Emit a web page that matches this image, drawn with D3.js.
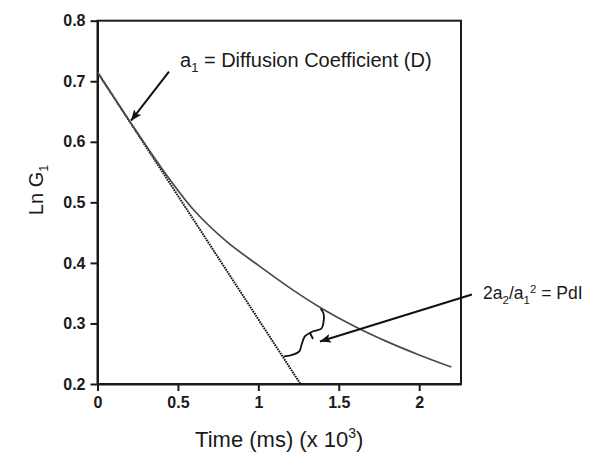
<!DOCTYPE html>
<html><head><meta charset="utf-8">
<script src="https://cdn.jsdelivr.net/npm/d3@7"></script>
<style>body{margin:0;background:#fff}svg{display:block}text{font-family:Arial,"Liberation Sans",sans-serif;fill:#1a1a1a}</style>
</head><body><svg id="c" width="598" height="453"></svg>
<script>
// ---- data ----
const timeValues  = [0, 0.2, 0.4, 0.6, 0.8, 1.0, 1.2, 1.4, 1.6, 1.8, 2.0, 2.2];
const lnG1Values  = [0.715, 0.634, 0.556, 0.487, 0.436, 0.396, 0.358, 0.324, 0.295, 0.270, 0.248, 0.228];
const tangentTime = [0, 1.262];
const tangentLnG1 = [0.715, 0.2];
const xTickValues = [0, 0.5, 1, 1.5, 2];
const yTickValues = [0.2, 0.3, 0.4, 0.5, 0.6, 0.7, 0.8];
const xDomain = [0, 2.26];
const yDomain = [0.2, 0.8];
const braceUpper = [[1.390,0.3234],[1.406,0.316],[1.404,0.300],[1.392,0.2915],[1.345,0.2875],[1.321,0.2842]];
const braceLower = [[1.321,0.2842],[1.290,0.2790],[1.270,0.2660],[1.255,0.2540],[1.215,0.2485],[1.162,0.2455]];
const braceTip   = [[1.321,0.2842],[1.338,0.2755]];
const arrowFrom  = [[0.4445,0.7158],[2.328,0.3478]];
const arrowTo    = [[0.2083,0.6348],[1.383,0.2702]];
const labelPos   = [[0.513,0.7235],[2.397,0.3404]];

// ---- scales ----
const svg = d3.select("#c");
const x = d3.scaleLinear().domain(xDomain).range([97.5, 461]);
const y = d3.scaleLinear().domain(yDomain).range([384, 20.7]);

const defs = svg.append("defs");
defs.append("marker").attr("id","ah").attr("markerUnits","userSpaceOnUse")
  .attr("markerWidth",12).attr("markerHeight",10).attr("refX",11).attr("refY",4.5)
  .attr("orient","auto")
  .append("path").attr("d","M0,0 L11,4.5 L0,9 L2.5,4.5 z").attr("fill","#111");

// frame
svg.append("rect").attr("x",x(xDomain[0])).attr("y",y(yDomain[1]))
  .attr("width",x(xDomain[1])-x(xDomain[0])).attr("height",y(yDomain[0])-y(yDomain[1]))
  .attr("fill","none").attr("stroke","#1a1a1a").attr("stroke-width",2);

// axes
const ax = svg.append("g").attr("transform",`translate(0,${y(yDomain[0])})`)
  .call(d3.axisBottom(x).tickValues(xTickValues).tickFormat(d3.format("")).tickSize(7).tickPadding(6).tickSizeOuter(0));
const ay = svg.append("g").attr("transform",`translate(${x(xDomain[0])},0)`)
  .call(d3.axisLeft(y).tickValues(yTickValues).tickFormat(d3.format(".1f")).tickSize(7).tickPadding(5).tickSizeOuter(0));
[ax, ay].forEach(g => {
  g.selectAll("path,line").attr("stroke","#1a1a1a").attr("stroke-width",2);
  g.selectAll("text").attr("font-size",16).attr("font-weight","bold")
    .attr("font-family","Arial, 'Liberation Sans', sans-serif").attr("fill","#1a1a1a");
});

// tangent line (dotted)
const lineGen = d3.line().x(d => x(d[0])).y(d => y(d[1]));
svg.append("path").datum(tangentTime.map((t,i)=>[t,tangentLnG1[i]]))
  .attr("d", lineGen).attr("fill","none").attr("stroke","#111")
  .attr("stroke-width",2).attr("stroke-dasharray","1.6,0.9");

// data curve
svg.append("path").datum(timeValues.map((t,i)=>[t,lnG1Values[i]]))
  .attr("d", d3.line().x(d=>x(d[0])).y(d=>y(d[1])).curve(d3.curveCatmullRom.alpha(0.5)))
  .attr("fill","none").attr("stroke","#4a4a4a").attr("stroke-width",1.7);

// brace
const braceGen = d3.line().x(d=>x(d[0])).y(d=>y(d[1])).curve(d3.curveCatmullRom.alpha(0.5));
[braceUpper, braceLower, braceTip].forEach(b =>
  svg.append("path").datum(b).attr("d", braceGen).attr("fill","none")
    .attr("stroke","#111").attr("stroke-width",1.8).attr("stroke-linecap","round"));

// arrows
arrowFrom.forEach((f,i) => {
  svg.append("line").attr("x1",x(f[0])).attr("y1",y(f[1]))
    .attr("x2",x(arrowTo[i][0])).attr("y2",y(arrowTo[i][1]))
    .attr("stroke","#111").attr("stroke-width",2).attr("marker-end","url(#ah)");
});

// annotations
const t1 = svg.append("text").attr("x",x(labelPos[0][0])).attr("y",y(labelPos[0][1])).attr("font-size",20);
t1.append("tspan").text("a");
t1.append("tspan").attr("font-size",13).attr("dy",5).text("1");
t1.append("tspan").attr("dy",-5).text(" = Diffusion Coefficient (D)");

const t2 = svg.append("text").attr("x",x(labelPos[1][0])).attr("y",y(labelPos[1][1])).attr("font-size",17.5);
t2.append("tspan").text("2a");
t2.append("tspan").attr("font-size",11.5).attr("dy",5).text("2");
t2.append("tspan").attr("dy",-5).text("/a");
t2.append("tspan").attr("font-size",11.5).attr("dy",5).text("1");
t2.append("tspan").attr("font-size",11.5).attr("dy",-11).text("2");
t2.append("tspan").attr("dy",6).text(" = PdI");

// axis titles
const xl = svg.append("text").attr("x",(x(xDomain[0])+x(xDomain[1]))/2).attr("y",447)
  .attr("text-anchor","middle").attr("font-size",22);
xl.append("tspan").text("Time (ms) (x 10");
xl.append("tspan").attr("font-size",14).attr("dy",-9).text("3");
xl.append("tspan").attr("dy",9).text(")");

const yl = svg.append("text").attr("transform","translate(43,190) rotate(-90)")
  .attr("text-anchor","middle").attr("font-size",20);
yl.append("tspan").text("Ln G");
yl.append("tspan").attr("font-size",12.5).attr("dy",5).text("1");
</script>
</body></html>
